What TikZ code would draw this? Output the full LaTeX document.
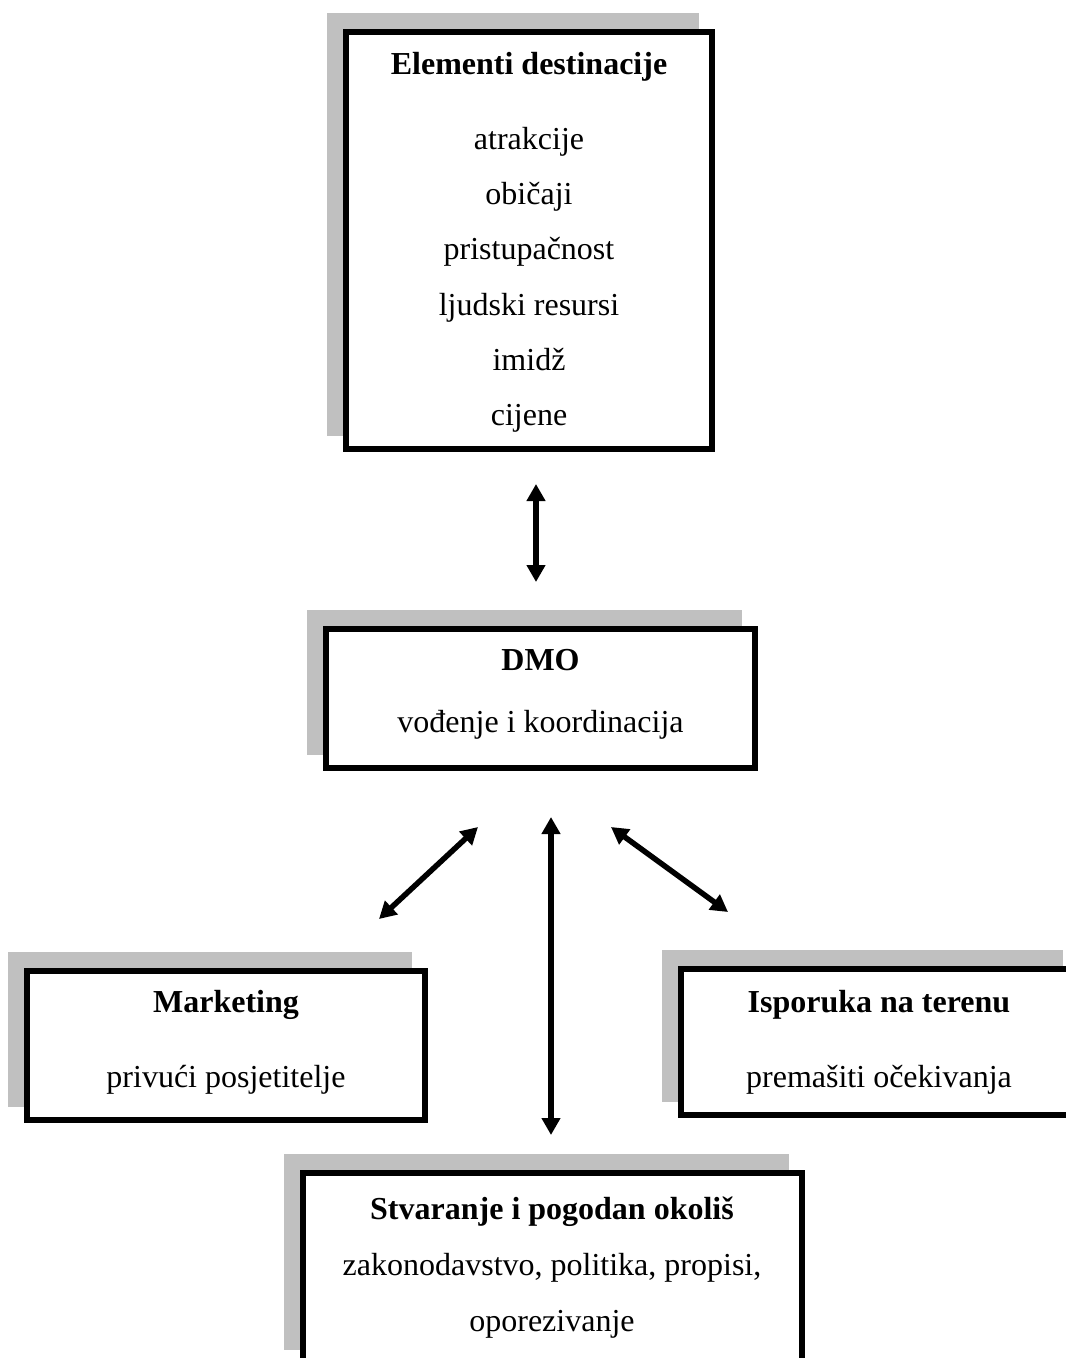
\documentclass[tikz,border=0pt]{standalone}
\usepackage{fontspec}
\setmainfont{Liberation Serif}
\usetikzlibrary{arrows.meta}
\definecolor{shadowgray}{HTML}{C0C0C0}
\tikzset{
  shadowrect/.style={fill=shadowgray, draw=none},
  framerect/.style={fill=white, draw=black, line width=6pt},
  txt/.style={anchor=base, inner sep=0pt, font=\fontsize{32}{38}\selectfont},
  ttl/.style={txt, font=\fontsize{32}{38}\selectfont\bfseries},
  link/.style={line width=5.5pt, {Triangle[width=18pt,length=17pt]}-{Triangle[width=18pt,length=17pt]}}
}
\begin{document}
\begin{tikzpicture}[x=1pt,y=-1pt]
\useasboundingbox (0,0) rectangle (1066,1358);
\clip (0,0) rectangle (1066,1358);
\fill[white] (0,0) rectangle (1066,1358);

% Elementi destinacije
\path[shadowrect] (327,13) rectangle (699,436);
\path[framerect] (346,32) rectangle (712,449);
\node[ttl] (eltitle) at (529,74) {Elementi destinacije};
\node[txt] (el1) at (529,149) {atrakcije};
\node[txt] (el2) at (529,204) {običaji};
\node[txt] (el3) at (529,259) {pristupačnost};
\node[txt] (el4) at (529,315) {ljudski resursi};
\node[txt] (el5) at (529,370) {imidž};
\node[txt] (el6) at (529,425) {cijene};

% DMO
\path[shadowrect] (307,610) rectangle (742,755);
\path[framerect] (326,629) rectangle (755,768);
\node[ttl] (dmotitle) at (540.5,670) {DMO};
\node[txt] (dmo1) at (540.5,732) {vođenje i koordinacija};

% Marketing
\path[shadowrect] (8,952) rectangle (412,1107);
\path[framerect] (27,971) rectangle (425,1120);
\node[ttl] (mktitle) at (226,1012) {Marketing};
\node[txt] (mk1) at (226,1087) {privući posjetitelje};

% Isporuka na terenu
\path[shadowrect] (662,950) rectangle (1063,1102);
\path[framerect] (681,969) rectangle (1076,1115);
\node[ttl] (istitle) at (879,1012) {Isporuka na terenu};
\node[txt] (is1) at (879,1087) {premašiti očekivanja};

% Stvaranje i pogodan okoliš
\path[shadowrect] (284,1154) rectangle (789,1350);
\path[framerect] (303,1173) rectangle (802,1370);
\node[ttl] (sttitle) at (552,1219) {Stvaranje i pogodan okoliš};
\node[txt] (st1) at (552,1275) {zakonodavstvo, politika, propisi,};
\node[txt] (st2) at (552,1331) {oporezivanje};

% arrow end points
\coordinate (a1s) at (536,484);
\coordinate (a1e) at (536,582);
\coordinate (a2s) at (478,827);
\coordinate (a2e) at (379,919);
\coordinate (a3s) at (551,817);
\coordinate (a3e) at (551,1135);
\coordinate (a4s) at (611,827);
\coordinate (a4e) at (728,912);

\draw[link] (a1s) -- (a1e);
\draw[link] (a2s) -- (a2e);
\draw[link] (a3s) -- (a3e);
\draw[link] (a4s) -- (a4e);
\end{tikzpicture}
\end{document}
